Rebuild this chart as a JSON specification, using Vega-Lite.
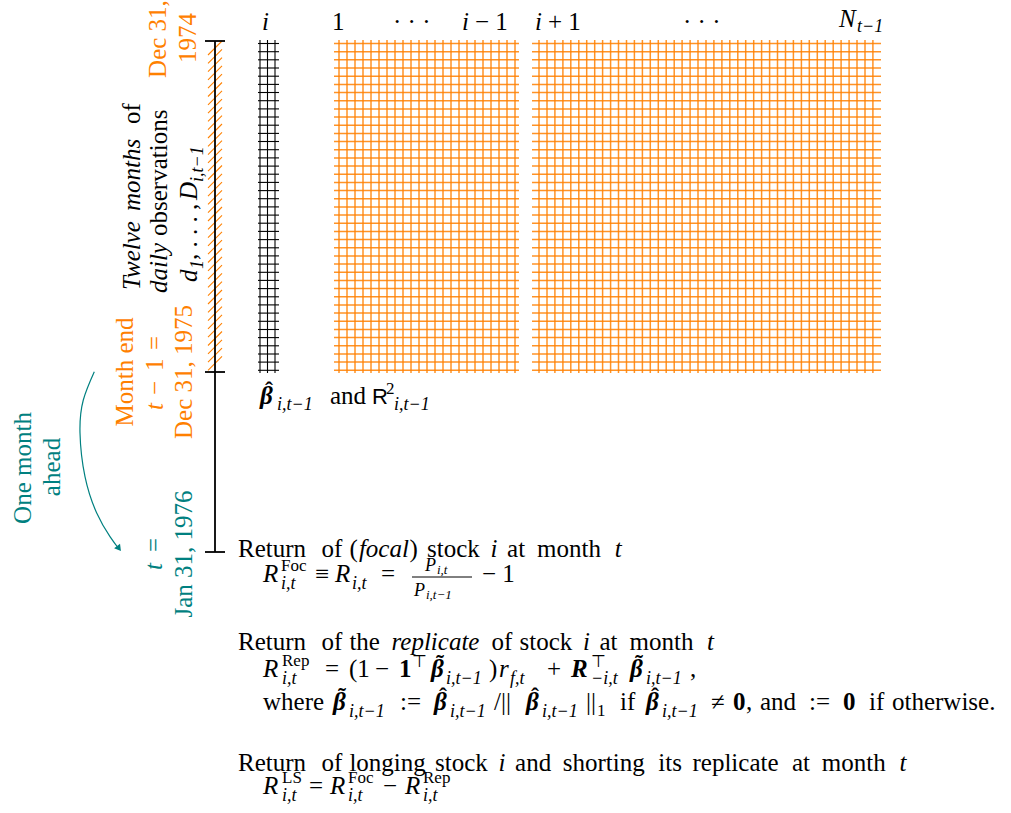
{
  "$schema": "https://vega.github.io/schema/vega-lite/v6.json",
  "width": 1011,
  "height": 813,
  "autosize": {"type": "none"},
  "padding": 0,
  "background": "white",
  "config": {"view": {"stroke": null}},
  "datasets": {
    "vgrid": [
      {"x": 339}, {"x": 347}, {"x": 355}, {"x": 363}, {"x": 371}, {"x": 379}, {"x": 387}, {"x": 395},
      {"x": 403}, {"x": 411}, {"x": 419}, {"x": 427}, {"x": 435}, {"x": 443}, {"x": 451}, {"x": 459},
      {"x": 467}, {"x": 475}, {"x": 483}, {"x": 491}, {"x": 499}, {"x": 507}, {"x": 515},
      {"x": 539}, {"x": 547}, {"x": 554.9}, {"x": 562.9}, {"x": 570.8}, {"x": 578.8}, {"x": 586.7},
      {"x": 594.7}, {"x": 602.6}, {"x": 610.6}, {"x": 618.5}, {"x": 626.5}, {"x": 634.4}, {"x": 642.4},
      {"x": 650.3}, {"x": 658.3}, {"x": 666.2}, {"x": 674.2}, {"x": 682.1}, {"x": 690.1}, {"x": 698},
      {"x": 706}, {"x": 713.9}, {"x": 721.9}, {"x": 729.8}, {"x": 737.8}, {"x": 745.7}, {"x": 753.7},
      {"x": 761.6}, {"x": 769.6}, {"x": 777.5}, {"x": 785.5}, {"x": 793.4}, {"x": 801.4}, {"x": 809.3},
      {"x": 817.3}, {"x": 825.2}, {"x": 833.2}, {"x": 841.1}, {"x": 849.1}, {"x": 857}, {"x": 865},
      {"x": 872.9}
    ],
    "hgrid": [
      {"y": 43.5}, {"y": 51.7}, {"y": 59.8}, {"y": 68}, {"y": 76.2}, {"y": 84.4}, {"y": 92.5},
      {"y": 100.7}, {"y": 108.9}, {"y": 117}, {"y": 125.2}, {"y": 133.4}, {"y": 141.5}, {"y": 149.7},
      {"y": 157.9}, {"y": 166.1}, {"y": 174.2}, {"y": 182.4}, {"y": 190.6}, {"y": 198.7}, {"y": 206.9},
      {"y": 215.1}, {"y": 223.2}, {"y": 231.4}, {"y": 239.6}, {"y": 247.8}, {"y": 255.9}, {"y": 264.1},
      {"y": 272.3}, {"y": 280.4}, {"y": 288.6}, {"y": 296.8}, {"y": 304.9}, {"y": 313.1}, {"y": 321.3},
      {"y": 329.5}, {"y": 337.6}, {"y": 345.8}, {"y": 354}, {"y": 362.1}, {"y": 370.3}
    ],
    "vblack": [{"x": 260}, {"x": 267.5}, {"x": 275}],
    "hatch": [
      {"y": 55, "y2": 41}, {"y": 63.3, "y2": 49.3}, {"y": 71.6, "y2": 57.6}, {"y": 79.9, "y2": 65.9},
      {"y": 88.2, "y2": 74.2}, {"y": 96.5, "y2": 82.5}, {"y": 104.8, "y2": 90.8}, {"y": 113.1, "y2": 99.1},
      {"y": 121.4, "y2": 107.4}, {"y": 129.7, "y2": 115.7}, {"y": 138, "y2": 124}, {"y": 146.3, "y2": 132.3},
      {"y": 154.6, "y2": 140.6}, {"y": 162.9, "y2": 148.9}, {"y": 171.2, "y2": 157.2}, {"y": 179.5, "y2": 165.5},
      {"y": 187.8, "y2": 173.8}, {"y": 196.1, "y2": 182.1}, {"y": 204.4, "y2": 190.4}, {"y": 212.7, "y2": 198.7},
      {"y": 221, "y2": 207}, {"y": 229.3, "y2": 215.3}, {"y": 237.6, "y2": 223.6}, {"y": 245.9, "y2": 231.9},
      {"y": 254.2, "y2": 240.2}, {"y": 262.5, "y2": 248.5}, {"y": 270.8, "y2": 256.8}, {"y": 279.1, "y2": 265.1},
      {"y": 287.4, "y2": 273.4}, {"y": 295.7, "y2": 281.7}, {"y": 304, "y2": 290}, {"y": 312.3, "y2": 298.3},
      {"y": 320.6, "y2": 306.6}, {"y": 328.9, "y2": 314.9}, {"y": 337.2, "y2": 323.2}, {"y": 345.5, "y2": 331.5},
      {"y": 353.8, "y2": 339.8}, {"y": 362.1, "y2": 348.1}, {"y": 370.4, "y2": 356.4}
    ],
    "timeline": [{"y": 41, "y2": 552}],
    "ticks": [{"y": 41}, {"y": 372}, {"y": 552}],
    "fracbar": [{"x": 412, "x2": 472, "y": 577}],
    "arrow": [
      {"o": 1, "x": 94.3, "y": 371.7},
      {"o": 2, "x": 83.3, "y": 400},
      {"o": 3, "x": 80, "y": 433},
      {"o": 4, "x": 85, "y": 476.7},
      {"o": 5, "x": 96.7, "y": 513},
      {"o": 6, "x": 110, "y": 536.7},
      {"o": 7, "x": 119, "y": 549}
    ],
    "head": [{"x": 119, "y": 548.5}],
    "labels": [
      {"k": "i", "x": 262, "y": 30, "t": "i"},
      {"k": "r", "x": 332, "y": 30, "t": "1"},
      {"k": "r", "x": 393, "y": 30, "t": "· · ·"},
      {"k": "i", "x": 462, "y": 30, "t": "i"},
      {"k": "r", "x": 475, "y": 30, "t": "− 1"},
      {"k": "i", "x": 535, "y": 30, "t": "i"},
      {"k": "r", "x": 548, "y": 30, "t": "+ 1"},
      {"k": "r", "x": 683, "y": 30, "t": "· · ·"},
      {"k": "i", "x": 839, "y": 27, "t": "N"},
      {"k": "si", "x": 857, "y": 32, "t": "t−1"},

      {"k": "bi", "x": 260, "y": 404, "t": "β"},
      {"k": "acc", "x": 265, "y": 398, "t": "ˆ"},
      {"k": "si", "x": 277, "y": 410, "t": "i,t−1"},
      {"k": "r", "x": 330, "y": 404, "t": "and"},
      {"k": "s", "x": 372, "y": 404, "t": "R"},
      {"k": "sr", "x": 386, "y": 394, "t": "2"},
      {"k": "si", "x": 394, "y": 410, "t": "i,t−1"},

      {"k": "r", "x": 238, "y": 557, "t": "Return"},
      {"k": "r", "x": 321.4, "y": 557, "t": "of"},
      {"k": "r", "x": 349.4, "y": 557, "t": "("},
      {"k": "i", "x": 358.9, "y": 557, "t": "focal"},
      {"k": "r", "x": 409.4, "y": 557, "t": ")"},
      {"k": "r", "x": 427.1, "y": 557, "t": "stock"},
      {"k": "i", "x": 490.5, "y": 557, "t": "i"},
      {"k": "r", "x": 507.1, "y": 557, "t": "at"},
      {"k": "r", "x": 537.1, "y": 557, "t": "month"},
      {"k": "i", "x": 614.7, "y": 557, "t": "t"},

      {"k": "i", "x": 263, "y": 582, "t": "R"},
      {"k": "sr", "x": 281, "y": 571, "t": "Foc"},
      {"k": "si", "x": 281, "y": 589, "t": "i,t"},
      {"k": "r", "x": 315, "y": 582, "t": "≡"},
      {"k": "i", "x": 335, "y": 582, "t": "R"},
      {"k": "si", "x": 352, "y": 589, "t": "i,t"},
      {"k": "r", "x": 381, "y": 582, "t": "="},
      {"k": "si", "x": 425, "y": 571, "t": "P"},
      {"k": "ti", "x": 437, "y": 574, "t": "i,t"},
      {"k": "si", "x": 414, "y": 596, "t": "P"},
      {"k": "ti", "x": 426, "y": 599, "t": "i,t−1"},
      {"k": "r", "x": 482, "y": 582, "t": "− 1"},

      {"k": "r", "x": 238, "y": 650, "t": "Return"},
      {"k": "r", "x": 321.4, "y": 650, "t": "of"},
      {"k": "r", "x": 349.4, "y": 650, "t": "the"},
      {"k": "i", "x": 391.5, "y": 650, "t": "replicate"},
      {"k": "r", "x": 491.6, "y": 650, "t": "of"},
      {"k": "r", "x": 519.5, "y": 650, "t": "stock"},
      {"k": "i", "x": 582.9, "y": 650, "t": "i"},
      {"k": "r", "x": 599.5, "y": 650, "t": "at"},
      {"k": "r", "x": 629.5, "y": 650, "t": "month"},
      {"k": "i", "x": 707.1, "y": 650, "t": "t"},

      {"k": "i", "x": 263, "y": 677, "t": "R"},
      {"k": "sr", "x": 282, "y": 666, "t": "Rep"},
      {"k": "si", "x": 282, "y": 684, "t": "i,t"},
      {"k": "r", "x": 325, "y": 677, "t": "="},
      {"k": "r", "x": 349, "y": 677, "t": "(1"},
      {"k": "r", "x": 375, "y": 677, "t": "−"},
      {"k": "b", "x": 399, "y": 677, "t": "1"},
      {"k": "sr", "x": 412, "y": 667, "t": "⊤"},
      {"k": "bi", "x": 431, "y": 677, "t": "β"},
      {"k": "acc", "x": 436, "y": 671, "t": "˜"},
      {"k": "si", "x": 446, "y": 684, "t": "i,t−1"},
      {"k": "r", "x": 489, "y": 677, "t": ")"},
      {"k": "i", "x": 499, "y": 677, "t": "r"},
      {"k": "si", "x": 510, "y": 684, "t": "f,t"},
      {"k": "r", "x": 547, "y": 677, "t": "+"},
      {"k": "bi", "x": 571, "y": 677, "t": "R"},
      {"k": "sr", "x": 591, "y": 667, "t": "⊤"},
      {"k": "si", "x": 591, "y": 684, "t": "−i,t"},
      {"k": "bi", "x": 630, "y": 677, "t": "β"},
      {"k": "acc", "x": 635, "y": 671, "t": "˜"},
      {"k": "si", "x": 646, "y": 684, "t": "i,t−1"},
      {"k": "r", "x": 690, "y": 677, "t": ","},

      {"k": "r", "x": 263, "y": 710, "t": "where"},
      {"k": "bi", "x": 333, "y": 710, "t": "β"},
      {"k": "acc", "x": 338, "y": 704, "t": "˜"},
      {"k": "si", "x": 349, "y": 717, "t": "i,t−1"},
      {"k": "r", "x": 400, "y": 710, "t": ":="},
      {"k": "bi", "x": 434, "y": 710, "t": "β"},
      {"k": "acc", "x": 439, "y": 704, "t": "ˆ"},
      {"k": "si", "x": 450, "y": 717, "t": "i,t−1"},
      {"k": "r", "x": 494, "y": 710, "t": "/||"},
      {"k": "bi", "x": 526, "y": 710, "t": "β"},
      {"k": "acc", "x": 531, "y": 704, "t": "ˆ"},
      {"k": "si", "x": 542, "y": 717, "t": "i,t−1"},
      {"k": "r", "x": 586, "y": 710, "t": "||"},
      {"k": "sr", "x": 597, "y": 716, "t": "1"},
      {"k": "r", "x": 620, "y": 710, "t": "if"},
      {"k": "bi", "x": 646, "y": 710, "t": "β"},
      {"k": "acc", "x": 651, "y": 704, "t": "ˆ"},
      {"k": "si", "x": 662, "y": 717, "t": "i,t−1"},
      {"k": "r", "x": 711, "y": 710, "t": "≠"},
      {"k": "b", "x": 733, "y": 710, "t": "0"},
      {"k": "r", "x": 746, "y": 710, "t": ","},
      {"k": "r", "x": 760, "y": 710, "t": "and"},
      {"k": "r", "x": 809, "y": 710, "t": ":="},
      {"k": "b", "x": 843, "y": 710, "t": "0"},
      {"k": "r", "x": 869, "y": 710, "t": "if"},
      {"k": "r", "x": 892, "y": 710, "t": "otherwise."},

      {"k": "r", "x": 238, "y": 771, "t": "Return"},
      {"k": "r", "x": 321.4, "y": 771, "t": "of"},
      {"k": "r", "x": 349.4, "y": 771, "t": "longing"},
      {"k": "r", "x": 435.1, "y": 771, "t": "stock"},
      {"k": "i", "x": 498.5, "y": 771, "t": "i"},
      {"k": "r", "x": 515.1, "y": 771, "t": "and"},
      {"k": "r", "x": 562.8, "y": 771, "t": "shorting"},
      {"k": "r", "x": 658.3, "y": 771, "t": "its"},
      {"k": "r", "x": 692.5, "y": 771, "t": "replicate"},
      {"k": "r", "x": 791.9, "y": 771, "t": "at"},
      {"k": "r", "x": 821.8, "y": 771, "t": "month"},
      {"k": "i", "x": 899.4, "y": 771, "t": "t"},

      {"k": "i", "x": 263, "y": 794, "t": "R"},
      {"k": "sr", "x": 282, "y": 783, "t": "LS"},
      {"k": "si", "x": 282, "y": 801, "t": "i,t"},
      {"k": "r", "x": 309, "y": 794, "t": "="},
      {"k": "i", "x": 330, "y": 794, "t": "R"},
      {"k": "sr", "x": 348, "y": 783, "t": "Foc"},
      {"k": "si", "x": 348, "y": 801, "t": "i,t"},
      {"k": "r", "x": 383, "y": 794, "t": "−"},
      {"k": "i", "x": 405, "y": 794, "t": "R"},
      {"k": "sr", "x": 423, "y": 783, "t": "Rep"},
      {"k": "si", "x": 423, "y": 801, "t": "i,t"},

      {"k": "rc", "x": 166, "y": 39, "t": "Dec 31,", "c": "o"},
      {"k": "rc", "x": 196, "y": 38, "t": "1974", "c": "o"},
      {"k": "ril", "x": 140, "y": 290, "t": "Twelve", "c": "k"},
      {"k": "ril", "x": 140, "y": 211, "t": "months", "c": "k"},
      {"k": "rl", "x": 140, "y": 124, "t": "of", "c": "k"},
      {"k": "ril", "x": 167, "y": 293, "t": "daily", "c": "k"},
      {"k": "rl", "x": 167, "y": 236, "t": "observations", "c": "k"},
      {"k": "ril", "x": 197, "y": 282, "t": "d", "c": "k"},
      {"k": "rsi", "x": 203, "y": 269, "t": "1", "c": "k"},
      {"k": "rl", "x": 197, "y": 260, "t": ", . . . ,", "c": "k"},
      {"k": "ril", "x": 197, "y": 200, "t": "D", "c": "k"},
      {"k": "rsi", "x": 203, "y": 182, "t": "i,t−1", "c": "k"},
      {"k": "rc", "x": 133, "y": 372, "t": "Month end", "c": "o"},
      {"k": "ril", "x": 163, "y": 410, "t": "t", "c": "o"},
      {"k": "rl", "x": 163, "y": 395, "t": "−", "c": "o"},
      {"k": "rl", "x": 163, "y": 371, "t": "1", "c": "o"},
      {"k": "rl", "x": 163, "y": 350, "t": "=", "c": "o"},
      {"k": "rc", "x": 192, "y": 372, "t": "Dec 31, 1975", "c": "o"},
      {"k": "ril", "x": 162, "y": 570, "t": "t", "c": "t"},
      {"k": "rl", "x": 162, "y": 552, "t": "=", "c": "t"},
      {"k": "rc", "x": 192, "y": 554, "t": "Jan 31, 1976", "c": "t"},
      {"k": "rc", "x": 31, "y": 468, "t": "One month", "c": "t"},
      {"k": "rc", "x": 60, "y": 467, "t": "ahead", "c": "t"}
    ]
  },
  "layer": [
    {
      "data": {"name": "hatch"},
      "mark": {"type": "rule", "color": "#ff8000", "strokeWidth": 1.1},
      "encoding": {
        "x": {"datum": 208, "type": "quantitative", "scale": {"domain": [0, 1011], "nice": false, "zero": false}, "axis": null},
        "x2": {"datum": 222},
        "y": {"field": "y", "type": "quantitative", "scale": {"domain": [0, 813], "nice": false, "zero": false, "reverse": true}, "axis": null},
        "y2": {"field": "y2"}
      }
    },
    {
      "data": {"name": "timeline"},
      "mark": {"type": "rule", "color": "#000000", "strokeWidth": 1.8},
      "encoding": {
        "x": {"datum": 215, "type": "quantitative", "axis": null},
        "y": {"field": "y", "type": "quantitative", "axis": null},
        "y2": {"field": "y2"}
      }
    },
    {
      "data": {"name": "ticks"},
      "mark": {"type": "rule", "color": "#000000", "strokeWidth": 1.8},
      "encoding": {
        "x": {"datum": 205, "type": "quantitative", "axis": null},
        "x2": {"datum": 225},
        "y": {"field": "y", "type": "quantitative", "axis": null}
      }
    },
    {
      "data": {"name": "vgrid"},
      "mark": {"type": "rule", "color": "#ff8000", "strokeWidth": 1.5, "opacity": 0.85},
      "encoding": {
        "x": {"field": "x", "type": "quantitative", "axis": null},
        "y": {"datum": 40, "type": "quantitative", "axis": null},
        "y2": {"datum": 373}
      }
    },
    {
      "data": {"name": "hgrid"},
      "mark": {"type": "rule", "color": "#ff8000", "strokeWidth": 1.5, "opacity": 0.85},
      "encoding": {
        "x": {"datum": 334, "type": "quantitative", "axis": null},
        "x2": {"datum": 519},
        "y": {"field": "y", "type": "quantitative", "axis": null}
      }
    },
    {
      "data": {"name": "hgrid"},
      "mark": {"type": "rule", "color": "#ff8000", "strokeWidth": 1.5, "opacity": 0.85},
      "encoding": {
        "x": {"datum": 532, "type": "quantitative", "axis": null},
        "x2": {"datum": 881},
        "y": {"field": "y", "type": "quantitative", "axis": null}
      }
    },
    {
      "data": {"name": "vblack"},
      "mark": {"type": "rule", "color": "#000000", "strokeWidth": 1.1},
      "encoding": {
        "x": {"field": "x", "type": "quantitative", "axis": null},
        "y": {"datum": 40, "type": "quantitative", "axis": null},
        "y2": {"datum": 373}
      }
    },
    {
      "data": {"name": "hgrid"},
      "mark": {"type": "rule", "color": "#000000", "strokeWidth": 1.1},
      "encoding": {
        "x": {"datum": 258, "type": "quantitative", "axis": null},
        "x2": {"datum": 279},
        "y": {"field": "y", "type": "quantitative", "axis": null}
      }
    },
    {
      "data": {"name": "fracbar"},
      "mark": {"type": "rule", "color": "#000000", "strokeWidth": 1},
      "encoding": {
        "x": {"field": "x", "type": "quantitative", "axis": null},
        "x2": {"field": "x2"},
        "y": {"field": "y", "type": "quantitative", "axis": null}
      }
    },
    {
      "data": {"name": "arrow"},
      "mark": {"type": "line", "color": "#008080", "strokeWidth": 1.2, "interpolate": "natural"},
      "encoding": {
        "x": {"field": "x", "type": "quantitative", "axis": null},
        "y": {"field": "y", "type": "quantitative", "axis": null},
        "order": {"field": "o", "type": "quantitative"}
      }
    },
    {
      "data": {"name": "head"},
      "mark": {"type": "point", "shape": "triangle-down", "filled": true, "size": 55, "angle": 323, "color": "#008080", "opacity": 1},
      "encoding": {
        "x": {"field": "x", "type": "quantitative", "axis": null},
        "y": {"field": "y", "type": "quantitative", "axis": null}
      }
    },
    {
      "data": {"name": "labels"},
      "transform": [{"filter": "datum.k === 'r'"}],
      "mark": {"type": "text", "font": "Liberation Serif", "fontSize": 25, "align": "left", "baseline": "alphabetic", "color": "#000000"},
      "encoding": {
        "x": {"field": "x", "type": "quantitative", "axis": null},
        "y": {"field": "y", "type": "quantitative", "axis": null},
        "text": {"field": "t"}
      }
    },
    {
      "data": {"name": "labels"},
      "transform": [{"filter": "datum.k === 'i'"}],
      "mark": {"type": "text", "font": "Liberation Serif", "fontSize": 25, "fontStyle": "italic", "align": "left", "baseline": "alphabetic", "color": "#000000"},
      "encoding": {
        "x": {"field": "x", "type": "quantitative", "axis": null},
        "y": {"field": "y", "type": "quantitative", "axis": null},
        "text": {"field": "t"}
      }
    },
    {
      "data": {"name": "labels"},
      "transform": [{"filter": "datum.k === 'b'"}],
      "mark": {"type": "text", "font": "Liberation Serif", "fontSize": 25, "fontWeight": "bold", "align": "left", "baseline": "alphabetic", "color": "#000000"},
      "encoding": {
        "x": {"field": "x", "type": "quantitative", "axis": null},
        "y": {"field": "y", "type": "quantitative", "axis": null},
        "text": {"field": "t"}
      }
    },
    {
      "data": {"name": "labels"},
      "transform": [{"filter": "datum.k === 'bi'"}],
      "mark": {"type": "text", "font": "Liberation Serif", "fontSize": 25, "fontWeight": "bold", "fontStyle": "italic", "align": "left", "baseline": "alphabetic", "color": "#000000"},
      "encoding": {
        "x": {"field": "x", "type": "quantitative", "axis": null},
        "y": {"field": "y", "type": "quantitative", "axis": null},
        "text": {"field": "t"}
      }
    },
    {
      "data": {"name": "labels"},
      "transform": [{"filter": "datum.k === 'acc'"}],
      "mark": {"type": "text", "font": "Liberation Serif", "fontSize": 24, "fontWeight": "bold", "align": "left", "baseline": "alphabetic", "color": "#000000"},
      "encoding": {
        "x": {"field": "x", "type": "quantitative", "axis": null},
        "y": {"field": "y", "type": "quantitative", "axis": null},
        "text": {"field": "t"}
      }
    },
    {
      "data": {"name": "labels"},
      "transform": [{"filter": "datum.k === 's'"}],
      "mark": {"type": "text", "font": "Liberation Sans", "fontSize": 22, "align": "left", "baseline": "alphabetic", "color": "#000000"},
      "encoding": {
        "x": {"field": "x", "type": "quantitative", "axis": null},
        "y": {"field": "y", "type": "quantitative", "axis": null},
        "text": {"field": "t"}
      }
    },
    {
      "data": {"name": "labels"},
      "transform": [{"filter": "datum.k === 'sr'"}],
      "mark": {"type": "text", "font": "Liberation Serif", "fontSize": 17, "align": "left", "baseline": "alphabetic", "color": "#000000"},
      "encoding": {
        "x": {"field": "x", "type": "quantitative", "axis": null},
        "y": {"field": "y", "type": "quantitative", "axis": null},
        "text": {"field": "t"}
      }
    },
    {
      "data": {"name": "labels"},
      "transform": [{"filter": "datum.k === 'si'"}],
      "mark": {"type": "text", "font": "Liberation Serif", "fontSize": 18, "fontStyle": "italic", "align": "left", "baseline": "alphabetic", "color": "#000000"},
      "encoding": {
        "x": {"field": "x", "type": "quantitative", "axis": null},
        "y": {"field": "y", "type": "quantitative", "axis": null},
        "text": {"field": "t"}
      }
    },
    {
      "data": {"name": "labels"},
      "transform": [{"filter": "datum.k === 'ti'"}],
      "mark": {"type": "text", "font": "Liberation Serif", "fontSize": 13, "fontStyle": "italic", "align": "left", "baseline": "alphabetic", "color": "#000000"},
      "encoding": {
        "x": {"field": "x", "type": "quantitative", "axis": null},
        "y": {"field": "y", "type": "quantitative", "axis": null},
        "text": {"field": "t"}
      }
    },
    {
      "data": {"name": "labels"},
      "transform": [{"filter": "datum.k === 'rc'"}],
      "mark": {"type": "text", "font": "Liberation Serif", "fontSize": 25, "align": "center", "baseline": "alphabetic", "angle": 270},
      "encoding": {
        "x": {"field": "x", "type": "quantitative", "axis": null},
        "y": {"field": "y", "type": "quantitative", "axis": null},
        "text": {"field": "t"},
        "color": {"field": "c", "type": "nominal", "scale": {"domain": ["o", "t", "k"], "range": ["#ff8000", "#008080", "#000000"]}, "legend": null}
      }
    },
    {
      "data": {"name": "labels"},
      "transform": [{"filter": "datum.k === 'rl'"}],
      "mark": {"type": "text", "font": "Liberation Serif", "fontSize": 25, "align": "left", "baseline": "alphabetic", "angle": 270},
      "encoding": {
        "x": {"field": "x", "type": "quantitative", "axis": null},
        "y": {"field": "y", "type": "quantitative", "axis": null},
        "text": {"field": "t"},
        "color": {"field": "c", "type": "nominal", "scale": {"domain": ["o", "t", "k"], "range": ["#ff8000", "#008080", "#000000"]}, "legend": null}
      }
    },
    {
      "data": {"name": "labels"},
      "transform": [{"filter": "datum.k === 'ril'"}],
      "mark": {"type": "text", "font": "Liberation Serif", "fontSize": 25, "fontStyle": "italic", "align": "left", "baseline": "alphabetic", "angle": 270},
      "encoding": {
        "x": {"field": "x", "type": "quantitative", "axis": null},
        "y": {"field": "y", "type": "quantitative", "axis": null},
        "text": {"field": "t"},
        "color": {"field": "c", "type": "nominal", "scale": {"domain": ["o", "t", "k"], "range": ["#ff8000", "#008080", "#000000"]}, "legend": null}
      }
    },
    {
      "data": {"name": "labels"},
      "transform": [{"filter": "datum.k === 'rsi'"}],
      "mark": {"type": "text", "font": "Liberation Serif", "fontSize": 18, "fontStyle": "italic", "align": "left", "baseline": "alphabetic", "angle": 270},
      "encoding": {
        "x": {"field": "x", "type": "quantitative", "axis": null},
        "y": {"field": "y", "type": "quantitative", "axis": null},
        "text": {"field": "t"},
        "color": {"field": "c", "type": "nominal", "scale": {"domain": ["o", "t", "k"], "range": ["#ff8000", "#008080", "#000000"]}, "legend": null}
      }
    }
  ]
}
